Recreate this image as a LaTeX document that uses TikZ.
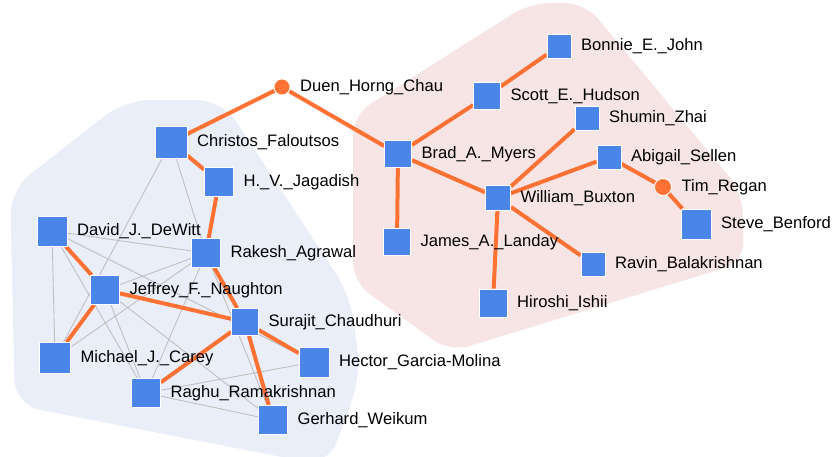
\documentclass[tikz,border=0pt]{standalone}
\usepackage{tikz}
\usepackage{xcolor}
\usepackage{fontspec}
\setmainfont{Liberation Sans}

\definecolor{nodeblue}{RGB}{74,134,232}
\definecolor{tieorange}{RGB}{255,114,51}
\definecolor{hullblue}{RGB}{234,238,249}
\definecolor{hullpink}{RGB}{247,228,228}
\definecolor{tiegray}{RGB}{192,192,192}

\pgfdeclarelayer{hulls}
\pgfdeclarelayer{ties}
\pgfsetlayers{hulls,ties,main}

\begin{document}
\begin{tikzpicture}[x=1pt, y=-1pt, font=\fontsize{16.6}{19}\selectfont]
\tikzstyle{author}=[rectangle, draw=white, line width=0.8pt, fill=nodeblue, inner sep=0pt]
\tikzstyle{broker}=[circle, draw=white, line width=0.8pt, fill=tieorange, inner sep=0pt, minimum size=16pt]
\tikzstyle{every label}=[inner sep=0pt, xshift=9.5pt, text height=12pt, text depth=3.5pt]
\tikzstyle{strong}=[tieorange, line width=4pt]
\tikzstyle{weak}=[tiegray, line width=0.9pt]

\useasboundingbox (0,0) rectangle (832,457);

\begin{pgfonlayer}{hulls}
\fill[hullblue, rounded corners=25pt] (125,100) -- (222,100) -- (350,295) -- (361,375) -- (328,466) -- (15,405) -- (10,190) -- cycle;
\fill[hullpink, rounded corners=20pt] (353,115) -- (530,3) -- (585,3) -- (742,192) -- (744,262) -- (450,352) -- (353,282) -- cycle;
\end{pgfonlayer}

\node[author, minimum size=32pt, label=right:Christos\_Faloutsos] (christos) at (171,142) {};
\node[author, minimum size=29pt, label=right:H.\_V.\_Jagadish] (jagadish) at (219,182) {};
\node[author, minimum size=30pt, label=right:David\_J.\_DeWitt] (dewitt) at (52,231) {};
\node[author, minimum size=29pt, label=right:Rakesh\_Agrawal] (agrawal) at (206,253) {};
\node[author, minimum size=29pt, label=right:Jeffrey\_F.\_Naughton] (naughton) at (105,290) {};
\node[author, minimum size=27pt, label=right:Surajit\_Chaudhuri] (chaudhuri) at (245,322) {};
\node[author, minimum size=31pt, label=right:Michael\_J.\_Carey] (carey) at (55,358) {};
\node[author, minimum size=30pt, label=right:Hector\_Garcia-Molina] (garcia) at (314,362) {};
\node[author, minimum size=29pt, label=right:Raghu\_Ramakrishnan] (ramakrishnan) at (146,393) {};
\node[author, minimum size=29pt, label=right:Gerhard\_Weikum] (weikum) at (273,420) {};

\node[broker, label=right:Duen\_Horng\_Chau] (chau) at (282,87) {};

\node[author, minimum size=27pt, label=right:Brad\_A.\_Myers] (myers) at (398,154) {};
\node[author, minimum size=27pt, label=right:Scott\_E.\_Hudson] (hudson) at (487,96) {};
\node[author, minimum size=24pt, label=right:Bonnie\_E.\_John] (john) at (559,46) {};
\node[author, minimum size=27pt, label=right:James\_A.\_Landay] (landay) at (397,242) {};
\node[author, minimum size=25pt, label=right:William\_Buxton] (buxton) at (498,198) {};
\node[author, minimum size=24pt, label=right:Shumin\_Zhai] (zhai) at (587,118) {};
\node[author, minimum size=24pt, label=right:Abigail\_Sellen] (sellen) at (609,157) {};
\node[broker, minimum size=17pt, label=right:Tim\_Regan] (regan) at (663,187) {};
\node[author, minimum size=30pt, label=right:Steve\_Benford] (benford) at (696,224) {};
\node[author, minimum size=24pt, label=right:Ravin\_Balakrishnan] (balakrishnan) at (593,264) {};
\node[author, minimum size=28pt, label=right:Hiroshi\_Ishii] (ishii) at (493,303) {};

\begin{pgfonlayer}{ties}
\draw[weak] (christos) -- (carey);
\draw[weak] (christos) -- (agrawal);
\draw[weak] (dewitt) -- (agrawal);
\draw[weak] (dewitt) -- (carey);
\draw[weak] (dewitt) -- (ramakrishnan);
\draw[weak] (dewitt) -- (garcia);
\draw[weak] (naughton) -- (agrawal);
\draw[weak] (naughton) -- (ramakrishnan);
\draw[weak] (naughton) -- (weikum);
\draw[weak] (carey) -- (agrawal);
\draw[weak] (agrawal) -- (ramakrishnan);
\draw[weak] (agrawal) -- (weikum);
\draw[weak] (ramakrishnan) -- (garcia);
\draw[weak] (ramakrishnan) -- (weikum);

\draw[strong] (christos) -- (chau);
\draw[strong] (chau) -- (myers);
\draw[strong] (christos) -- (jagadish);
\draw[strong] (jagadish) -- (agrawal);
\draw[strong] (agrawal) -- (chaudhuri);
\draw[strong] (dewitt) -- (naughton);
\draw[strong] (naughton) -- (carey);
\draw[strong] (naughton) -- (chaudhuri);
\draw[strong] (chaudhuri) -- (garcia);
\draw[strong] (chaudhuri) -- (ramakrishnan);
\draw[strong] (chaudhuri) -- (weikum);
\draw[strong] (myers) -- (hudson);
\draw[strong] (hudson) -- (john);
\draw[strong] (myers) -- (landay);
\draw[strong] (myers) -- (buxton);
\draw[strong] (buxton) -- (zhai);
\draw[strong] (buxton) -- (sellen);
\draw[strong] (buxton) -- (balakrishnan);
\draw[strong] (buxton) -- (ishii);
\draw[strong] (sellen) -- (regan);
\draw[strong] (regan) -- (benford);
\end{pgfonlayer}
\end{tikzpicture}
\end{document}
